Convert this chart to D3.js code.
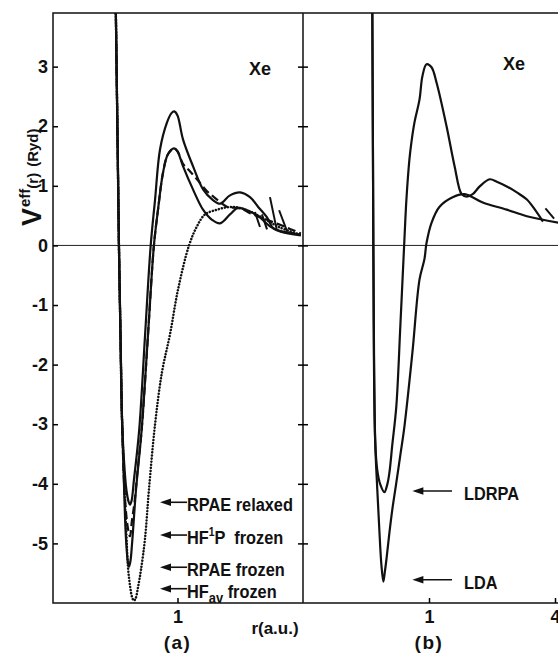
<!DOCTYPE html>
<html>
<head>
<meta charset="utf-8">
<script src="https://cdn.jsdelivr.net/npm/d3@7"></script>
<style>
  body { margin: 0; background: #fff; }
  svg { display: block; }
  text { font-family: "Liberation Sans", Arial, sans-serif; fill: #111; }
</style>
</head>
<body>
<div id="chart"></div>
<script>
const width = 558, height = 657;
const margin = { top: 13, bottom: 54, left: 53 };
const plotBottom = height - margin.bottom;
const splitX = 303;

// axes
const rDomain = [0.25, 4];
const vDomain = [-6, 3.9];
const yTicks = [3, 2, 1, 0, -1, -2, -3, -4, -5];
const xTicksA = [1];
const xTicksB = [1, 4];

// panel (a): [r (a.u.), Veff (Ryd)]
const rpaeRelaxed = [[0.502, 4.2], [0.512, 2.0], [0.521, 0], [0.530, -1.5], [0.539, -2.9], [0.551, -3.6],
  [0.566, -4.1], [0.580, -4.3], [0.589, -4.35], [0.600, -4.28], [0.615, -3.95], [0.653, -3.09], [0.697, -1.5],
  [0.742, 0], [0.779, 0.77], [0.823, 1.61], [0.889, 2.06], [0.935, 2.22], [0.965, 2.25], [1.0, 2.18],
  [1.063, 1.78], [1.188, 1.33], [1.329, 0.94], [1.484, 0.76], [1.605, 0.70], [1.794, 0.84], [2.006, 0.89],
  [2.242, 0.81], [2.45, 0.65], [2.71, 0.47], [2.9, 0.29], [3.15, 0.24], [3.5, 0.21], [3.95, 0.18]];

const hf1pFrozen = [[0.502, 4.2], [0.512, 2.0], [0.521, 0], [0.530, -1.5], [0.539, -2.9], [0.556, -4.2],
  [0.576, -4.75], [0.589, -4.88], [0.602, -4.62], [0.620, -4.3], [0.640, -3.8], [0.671, -3.09], [0.720, -1.5],
  [0.769, 0], [0.805, 0.6], [0.851, 1.22], [0.899, 1.53], [0.962, 1.63], [1.0, 1.58], [1.063, 1.37],
  [1.137, 1.26], [1.242, 1.11], [1.389, 0.91], [1.553, 0.77], [1.735, 0.65], [2.006, 0.62], [2.318, 0.52],
  [2.71, 0.43], [3.385, 0.30], [3.95, 0.2]];

const rpaeFrozen = [[0.502, 4.2], [0.512, 2.0], [0.521, 0], [0.530, -1.5], [0.539, -2.9], [0.551, -4.0],
  [0.563, -4.9], [0.575, -5.3], [0.583, -5.39], [0.592, -5.3], [0.603, -5.0], [0.630, -4.1], [0.671, -3.09],
  [0.720, -1.5], [0.769, 0], [0.805, 0.6], [0.851, 1.22], [0.899, 1.53], [0.962, 1.63], [1.0, 1.58],
  [1.063, 1.33], [1.188, 0.94], [1.329, 0.60], [1.468, 0.43], [1.605, 0.37], [1.794, 0.52], [1.962, 0.63],
  [2.242, 0.57], [2.505, 0.47], [2.801, 0.32], [3.132, 0.235], [3.95, 0.17]];

const hfavFrozen = [[0.502, 4.2], [0.512, 2.0], [0.521, 0], [0.530, -1.5], [0.539, -2.9], [0.556, -4.2],
  [0.567, -4.9], [0.576, -5.39], [0.589, -5.70], [0.605, -5.92], [0.616, -5.96], [0.628, -5.92], [0.644, -5.74],
  [0.666, -5.44], [0.696, -4.93], [0.728, -4.09], [0.779, -3.0], [0.841, -2.13], [0.920, -1.49], [1.006, -0.74],
  [1.137, 0], [1.242, 0.32], [1.358, 0.52], [1.553, 0.60], [1.735, 0.64], [1.93, 0.64], [2.24, 0.57],
  [2.65, 0.44], [3.13, 0.30], [3.95, 0.18]];

const tailsA = [
  [[2.80, 0.81], [3.03, 0.24]],
  [[3.10, 0.59], [3.385, 0.24]],
  [[2.37, 0.56], [2.505, 0.31]],
  [[2.56, 0.52], [2.71, 0.27]]
];

const labelsA = ["RPAE relaxed", "HF^1P  frozen", "RPAE frozen", "HF_av frozen"];
const labelValuesA = [-4.31, -4.86, -5.40, -5.76];

// panel (b)
const ldrpa = [[0.533, 4.2], [0.536, 3.91], [0.542, 0], [0.553, -3.26], [0.566, -3.77], [0.585, -4.01],
  [0.612, -4.14], [0.632, -4.01], [0.647, -3.81], [0.668, -3.34], [0.698, -2.70], [0.730, -1.33], [0.763, 0.1],
  [0.780, 0.77], [0.806, 1.44], [0.824, 1.73], [0.852, 2.06], [0.901, 2.45], [0.930, 2.84], [0.973, 3.04],
  [1.028, 2.99], [1.087, 2.73], [1.213, 2.0], [1.325, 1.33], [1.432, 0.86], [1.513, 0.82], [1.617, 0.86],
  [1.747, 0.99], [1.951, 1.11], [2.108, 1.07], [2.354, 0.99], [2.628, 0.89], [2.936, 0.77], [3.207, 0.60],
  [3.504, 0.40]];

const lda = [[0.533, 4.2], [0.536, 3.91], [0.542, 0], [0.553, -3.26], [0.566, -4.09], [0.579, -4.77],
  [0.592, -5.35], [0.605, -5.64], [0.615, -5.48], [0.626, -5.27], [0.647, -4.82], [0.668, -4.43],
  [0.698, -3.98], [0.730, -3.51], [0.763, -3.04], [0.833, -1.80], [0.901, -0.57], [0.951, -0.23],
  [0.973, 0.04], [1.028, 0.38], [1.123, 0.65], [1.297, 0.81], [1.48, 0.86], [1.806, 0.72], [2.354, 0.60],
  [2.936, 0.49], [4.2, 0.38]];

const tailsB = [
  [[3.60, 0.62], [3.96, 0.45]]
];

const labelsB = ["LDRPA", "LDA"];
const labelValuesB = [-4.12, -5.61];

// ---------------------------------------------------------------------------

const svg = d3.select("#chart").append("svg")
    .attr("width", width)
    .attr("height", height);

const y = d3.scaleLinear().domain(vDomain).range([plotBottom, margin.top]);
const xA = d3.scaleLog().domain(rDomain).range([margin.left, 302]);
const xB = d3.scaleLog().domain(rDomain).range([splitX, 555]);

const styles = {
    solid: { dash: null, width: 2.2 },
    dashed: { dash: "8,4", width: 2.2 },
    dotted: { dash: "0.1,3", width: 2.5 }
};

const panels = [
    { id: "a", x: xA, x0: margin.left, x1: splitX, tails: tailsA,
      curves: [[rpaeRelaxed, "solid"], [hf1pFrozen, "dashed"], [rpaeFrozen, "solid"], [hfavFrozen, "dotted"]] },
    { id: "b", x: xB, x0: splitX, x1: width, tails: tailsB,
      curves: [[ldrpa, "solid"], [lda, "solid"]] }
];

// zero line
svg.append("line")
    .attr("x1", margin.left).attr("x2", width)
    .attr("y1", y(0)).attr("y2", y(0))
    .style("stroke", "#222").style("stroke-width", 1);

// frame
svg.append("path")
    .attr("d", `M${width},${margin.top}H${margin.left}V${plotBottom}H${width}M${splitX},${margin.top}V${plotBottom}`)
    .style("fill", "none").style("stroke", "#111").style("stroke-width", 1.5);

panels.forEach(p => {
    svg.append("clipPath").attr("id", "clip-" + p.id)
        .append("rect")
        .attr("x", p.x0).attr("y", margin.top)
        .attr("width", p.x1 - p.x0).attr("height", plotBottom - margin.top);

    const g = svg.append("g").attr("clip-path", `url(#clip-${p.id})`);

    const line = d3.line()
        .x(d => p.x(d[0]))
        .y(d => y(d[1]))
        .curve(d3.curveCatmullRom.alpha(0.5));

    p.curves.forEach(([data, kind]) => {
        g.append("path")
            .attr("d", line(data))
            .style("fill", "none")
            .style("stroke", "#111")
            .style("stroke-width", styles[kind].width)
            .style("stroke-dasharray", styles[kind].dash)
            .style("stroke-linecap", kind === "dotted" ? "round" : "butt")
            .style("stroke-linejoin", "round");
    });

    g.selectAll(".tail")
        .data(p.tails)
        .join("path")
        .attr("class", "tail")
        .attr("d", d => d3.line().x(d => p.x(d[0])).y(d => y(d[1]))(d))
        .style("fill", "none").style("stroke", "#111").style("stroke-width", 2);
});

// y axes with inward ticks
const yAxisLeft = svg.append("g")
    .attr("transform", `translate(${margin.left},0)`)
    .call(d3.axisLeft(y).tickValues(yTicks).tickSize(-5).tickPadding(5).tickFormat(d => String(d)));
yAxisLeft.select(".domain").remove();
yAxisLeft.selectAll("line").style("stroke-width", 1.5);
yAxisLeft.selectAll("text")
    .style("font-family", "'Liberation Sans', Arial, sans-serif")
    .style("font-size", "18px").style("font-weight", "bold");

[d3.axisRight(y), d3.axisLeft(y)].forEach(ax => {
    const g = svg.append("g")
        .attr("transform", `translate(${splitX},0)`)
        .call(ax.tickValues(yTicks).tickSize(-5).tickFormat(""));
    g.select(".domain").remove();
    g.selectAll("line").style("stroke-width", 1.5);
});

// x axes
[[xA, xTicksA], [xB, xTicksB]].forEach(([sc, ticks]) => {
    const g = svg.append("g")
        .attr("transform", `translate(0,${plotBottom})`)
        .call(d3.axisBottom(sc).tickValues(ticks).tickSize(-5).tickPadding(7).tickFormat(d3.format("d")));
    g.select(".domain").remove();
    g.selectAll("line").style("stroke-width", 1.5);
    g.selectAll("text")
        .style("font-family", "'Liberation Sans', Arial, sans-serif")
        .style("font-size", "18px").style("font-weight", "bold");
});

// axis titles
const yTitle = svg.append("text")
    .attr("transform", "translate(41,226) rotate(-90)")
    .style("font-weight", "bold");
yTitle.append("tspan").style("font-size", "27px").text("V");
yTitle.append("tspan").style("font-size", "15px").attr("dx", 1).attr("dy", -11).text("eff");
yTitle.append("tspan").style("font-size", "15px").attr("dy", 8).text("(r)");
yTitle.append("tspan").style("font-size", "15px").attr("dx", 6).text("(Ryd)");

svg.append("text")
    .attr("x", 275).attr("y", 634)
    .attr("text-anchor", "middle")
    .style("font-size", "17px").style("font-weight", "bold")
    .text("r(a.u.)");

svg.append("text").attr("x", xA(1)).attr("y", 649).attr("text-anchor", "middle")
    .style("font-size", "19px").style("font-weight", "bold").style("letter-spacing", "1.5px")
    .text("(a)");
svg.append("text").attr("x", xB(1)).attr("y", 649).attr("text-anchor", "middle")
    .style("font-size", "19px").style("font-weight", "bold").style("letter-spacing", "1.5px")
    .text("(b)");

// element labels
svg.append("text").attr("x", 249).attr("y", 75)
    .style("font-size", "18px").style("font-weight", "bold").text("Xe");
svg.append("text").attr("x", 503).attr("y", 70)
    .style("font-size", "18px").style("font-weight", "bold").text("Xe");

// arrows with labels; "^x" is a superscript, "_xx" a subscript
function addText(sel, label) {
    let shift = 0;
    label.split(/(\^\w|_\w\w)/).filter(s => s.length).forEach(part => {
        let target = 0, size = null, txt = part;
        if (part[0] === "^") { target = -8; size = "12px"; txt = part.slice(1); }
        else if (part[0] === "_") { target = 5; size = "15px"; txt = part.slice(1); }
        const ts = sel.append("tspan").attr("dy", target - shift).text(txt);
        if (size) ts.style("font-size", size);
        shift = target;
    });
}

function addArrows(sc, labels, values, tipR, endR, textR) {
    labels.forEach((label, i) => {
        const yy = y(values[i]);
        const tip = sc(tipR), end = sc(endR);
        svg.append("path")
            .attr("d", `M${tip},${yy}L${tip + 11},${yy - 3.8}L${tip + 11},${yy + 3.8}Z`)
            .style("fill", "#111");
        svg.append("line")
            .attr("x1", tip + 8).attr("x2", end)
            .attr("y1", yy).attr("y2", yy)
            .style("stroke", "#111").style("stroke-width", 1.6);
        const t = svg.append("text")
            .attr("transform", `translate(${sc(textR)},${yy + 9}) scale(0.86,1)`)
            .style("font-size", "19px").style("font-weight", "bold")
            .style("white-space", "pre");
        addText(t, label);
    });
}

addArrows(xA, labelsA, labelValuesA, 0.823, 1.112, 1.112);
addArrows(xB, labelsB, labelValuesB, 0.833, 1.288, 1.47);
</script>
</body>
</html>
